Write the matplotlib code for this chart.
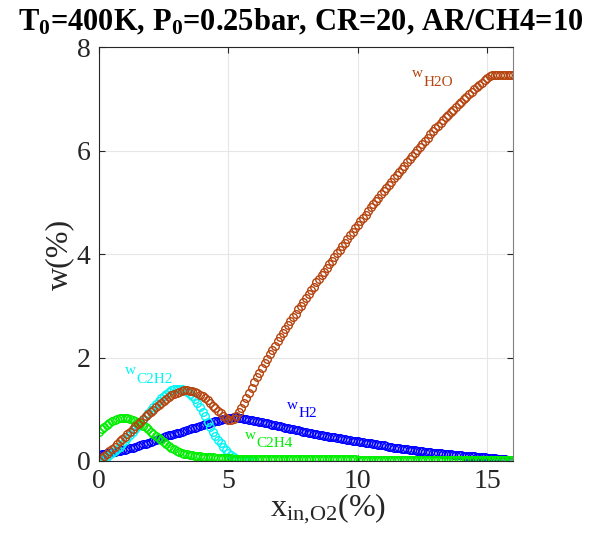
import numpy as np
import matplotlib
matplotlib.use("Agg")
import matplotlib.pyplot as plt

plt.rcParams['font.family'] = ['Liberation Serif', 'DejaVu Serif']
plt.rcParams['mathtext.fontset'] = 'custom'
plt.rcParams['mathtext.rm'] = 'Liberation Serif'
plt.rcParams['mathtext.it'] = 'Liberation Serif:italic'
plt.rcParams['mathtext.bf'] = 'Liberation Serif:bold'

# inlet O2 fraction (%) , step 0.1
x_in = np.round(np.arange(161) * 0.1, 1)

w_h2o = [
    0.00, 0.05, 0.09, 0.14, 0.19, 0.24, 0.28, 0.33, 0.38, 0.43,
    0.47, 0.52, 0.57, 0.62, 0.67, 0.71, 0.76, 0.81, 0.86, 0.90,
    0.95, 0.99, 1.04, 1.08, 1.12, 1.16, 1.20, 1.24, 1.27, 1.30,
    1.32, 1.34, 1.36, 1.37, 1.37, 1.36, 1.35, 1.33, 1.31, 1.28,
    1.25, 1.21, 1.17, 1.12, 1.07, 1.02, 0.97, 0.92, 0.87, 0.83,
    0.80, 0.79, 0.81, 0.86, 0.94, 1.03, 1.12, 1.22, 1.32, 1.42,
    1.52, 1.62, 1.71, 1.80, 1.89, 1.98, 2.07, 2.15, 2.23, 2.31,
    2.39, 2.47, 2.55, 2.63, 2.70, 2.78, 2.85, 2.93, 3.00, 3.08,
    3.15, 3.23, 3.30, 3.37, 3.45, 3.52, 3.59, 3.66, 3.73, 3.80,
    3.87, 3.94, 4.01, 4.08, 4.15, 4.22, 4.29, 4.36, 4.43, 4.50,
    4.56, 4.63, 4.70, 4.76, 4.83, 4.90, 4.96, 5.03, 5.09, 5.15,
    5.22, 5.28, 5.34, 5.40, 5.47, 5.53, 5.59, 5.65, 5.71, 5.77,
    5.83, 5.89, 5.95, 6.01, 6.07, 6.13, 6.19, 6.25, 6.31, 6.37,
    6.43, 6.48, 6.54, 6.59, 6.64, 6.69, 6.74, 6.79, 6.84, 6.89,
    6.94, 6.99, 7.04, 7.09, 7.13, 7.18, 7.22, 7.27, 7.31, 7.36,
    7.40, 7.43, 7.45, 7.46, 7.46, 7.46, 7.46, 7.46, 7.46, 7.46,
    7.46]

w_h2 = [
    0.12, 0.13, 0.14, 0.15, 0.16, 0.17, 0.18, 0.19, 0.20, 0.21,
    0.22, 0.23, 0.25, 0.26, 0.27, 0.29, 0.30, 0.32, 0.33, 0.35,
    0.36, 0.38, 0.40, 0.42, 0.44, 0.46, 0.48, 0.50, 0.51, 0.52,
    0.54, 0.55, 0.57, 0.58, 0.60, 0.61, 0.63, 0.64, 0.66, 0.68,
    0.69, 0.71, 0.72, 0.74, 0.75, 0.77, 0.78, 0.80, 0.81, 0.82,
    0.83, 0.84, 0.85, 0.85, 0.84, 0.83, 0.82, 0.81, 0.80, 0.79,
    0.78, 0.77, 0.76, 0.75, 0.74, 0.73, 0.72, 0.70, 0.69, 0.68,
    0.67, 0.66, 0.64, 0.63, 0.62, 0.61, 0.60, 0.59, 0.58, 0.57,
    0.56, 0.55, 0.54, 0.53, 0.52, 0.51, 0.50, 0.49, 0.48, 0.47,
    0.47, 0.46, 0.45, 0.44, 0.43, 0.42, 0.41, 0.40, 0.39, 0.38,
    0.38, 0.37, 0.36, 0.35, 0.34, 0.34, 0.33, 0.32, 0.31, 0.30,
    0.30, 0.29, 0.28, 0.27, 0.26, 0.26, 0.25, 0.24, 0.23, 0.23,
    0.22, 0.21, 0.21, 0.20, 0.19, 0.19, 0.18, 0.17, 0.17, 0.16,
    0.16, 0.15, 0.15, 0.14, 0.14, 0.13, 0.13, 0.12, 0.12, 0.11,
    0.11, 0.10, 0.10, 0.10, 0.09, 0.09, 0.08, 0.08, 0.07, 0.07,
    0.06, 0.06, 0.05, 0.05, 0.04, 0.04, 0.03, 0.03, 0.02, 0.02,
    0.02]

# C2H2 only up to x=6, after that it sits under the C2H4 line at 0
w_c2h2 = [
    0.02, 0.03, 0.05, 0.08, 0.11, 0.15, 0.19, 0.24, 0.28, 0.33,
    0.38, 0.44, 0.50, 0.56, 0.62, 0.68, 0.74, 0.80, 0.86, 0.92,
    0.98, 1.04, 1.10, 1.16, 1.21, 1.26, 1.30, 1.34, 1.37, 1.39,
    1.40, 1.40, 1.39, 1.37, 1.34, 1.30, 1.25, 1.19, 1.12, 1.04,
    0.95, 0.86, 0.76, 0.66, 0.57, 0.48, 0.41, 0.34, 0.27, 0.21,
    0.16, 0.11, 0.07, 0.04, 0.02, 0.01, 0.01, 0.00, 0.00, 0.00,
    0.00]

w_c2h4 = [
    0.56, 0.61, 0.65, 0.70, 0.74, 0.77, 0.80, 0.82, 0.83, 0.84,
    0.84, 0.83, 0.82, 0.80, 0.78, 0.75, 0.72, 0.68, 0.65, 0.61,
    0.57, 0.53, 0.49, 0.45, 0.41, 0.37, 0.33, 0.29, 0.26, 0.23,
    0.20, 0.18, 0.16, 0.14, 0.13, 0.12, 0.11, 0.10, 0.09, 0.09,
    0.08, 0.08, 0.07, 0.07, 0.07, 0.06, 0.06, 0.06, 0.05, 0.05,
    0.05, 0.05, 0.04, 0.04, 0.04, 0.04, 0.04, 0.03, 0.03, 0.03,
    0.03, 0.03, 0.03, 0.03, 0.03, 0.03, 0.03, 0.03, 0.03, 0.03,
    0.03, 0.03, 0.03, 0.03, 0.03, 0.03, 0.03, 0.03, 0.03, 0.03,
    0.03, 0.03, 0.03, 0.03, 0.03, 0.03, 0.03, 0.03, 0.03, 0.03,
    0.03, 0.03, 0.03, 0.03, 0.03, 0.03, 0.03, 0.03, 0.03, 0.03,
    0.02, 0.02, 0.02, 0.02, 0.02, 0.02, 0.02, 0.02, 0.02, 0.02,
    0.02, 0.02, 0.02, 0.02, 0.02, 0.02, 0.02, 0.02, 0.02, 0.02,
    0.02, 0.02, 0.02, 0.02, 0.02, 0.02, 0.02, 0.02, 0.02, 0.02,
    0.02, 0.02, 0.02, 0.02, 0.02, 0.02, 0.02, 0.02, 0.02, 0.02,
    0.02, 0.02, 0.02, 0.02, 0.02, 0.02, 0.02, 0.02, 0.02, 0.02,
    0.02, 0.02, 0.02, 0.02, 0.02, 0.02, 0.02, 0.02, 0.02, 0.02,
    0.02]

c_h2 = '#0000ff'
c_c2h2 = '#00f5f5'
c_c2h4 = '#00ee00'
c_h2o = '#b5440f'

fig = plt.figure(figsize=(6.02, 5.39), dpi=100)
ax = fig.add_axes([99 / 602, 1 - 461 / 539, 414 / 602, 414 / 539])

mk = dict(marker='o', linestyle='none', markersize=5.5, markerfacecolor='none', markeredgewidth=1.0)
ax.plot(x_in, w_h2, color=c_h2, **mk)
ax.plot(x_in[:len(w_c2h2)], w_c2h2, color=c_c2h2, **mk)
ax.plot(x_in, w_c2h4, color=c_c2h4, **mk)
ax.plot(x_in, w_h2o, color=c_h2o, **mk)

ax.set_xlim(0, 16)
ax.set_ylim(0, 8)
ax.set_xticks([0, 5, 10, 15])
ax.set_yticks([0, 2, 4, 6, 8])
ax.grid(True, color='#e6e6e6', linewidth=0.8)
ax.set_axisbelow(True)
ax.tick_params(direction='in', top=True, right=True, length=4, width=0.8,
               labelsize=20, colors='#262626', pad=6)
for s in ax.spines.values():
    s.set_color('#262626')
    s.set_linewidth(0.8)
ax.spines['right'].set_color('#808080')

ax.set_xlabel(r'x$_{\mathrm{in{,}O2}}$(%)', fontsize=23, color='#262626', labelpad=4)
ax.xaxis.set_label_coords(0.553, -0.075, transform=ax.transAxes)
ax.xaxis.label.set_va('top')
ax.set_ylabel('w(%)', fontsize=23, color='#262626', labelpad=2)

fig.text(0.5, 1 - 30 / 539, r'T$_\mathbf{0}$=400K, P$_\mathbf{0}$=0.25bar, CR=20, AR/CH4=10',
         ha='center', va='baseline', fontsize=22, fontweight='bold')


# curve labels: a small "w" with the species as a subscript
def species_label(x, y, sub, color):
    ax.text(x, y, 'w', fontsize=11, color=color, ha='left', va='center')
    ax.annotate(sub, xy=(x, y), xytext=(8.5, -6), textcoords='offset points',
                fontsize=11, color=color, ha='left', va='center')


species_label(1.0, 1.74, 'C2H2', c_c2h2)
species_label(7.27, 1.08, 'H2', c_h2)
species_label(5.64, 0.5, 'C2H4', c_c2h4)
species_label(12.1, 7.48, 'H2O', c_h2o)

fig.savefig('out.png', dpi=100)
